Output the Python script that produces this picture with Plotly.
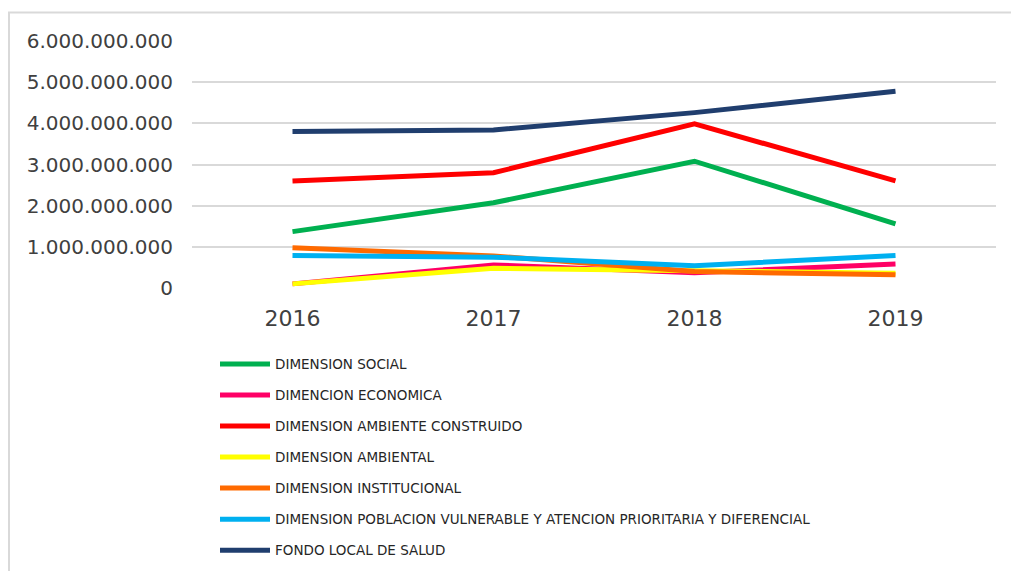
import plotly.graph_objects as go

# Budget execution by dimension, 2016-2019
years = ["2016", "2017", "2018", "2019"]

dimension_social = [1.37e9, 2.07e9, 3.08e9, 1.56e9]
dimencion_economica = [0.10e9, 0.56e9, 0.37e9, 0.58e9]
dimension_ambiente_construido = [2.60e9, 2.80e9, 3.99e9, 2.60e9]
dimension_ambiental = [0.10e9, 0.48e9, 0.42e9, 0.36e9]
dimension_institucional = [0.98e9, 0.78e9, 0.40e9, 0.32e9]
dimension_poblacion_vulnerable = [0.79e9, 0.75e9, 0.54e9, 0.79e9]
fondo_local_salud = [3.80e9, 3.84e9, 4.26e9, 4.78e9]

series_names = [
    "DIMENSION SOCIAL",
    "DIMENCION ECONOMICA",
    "DIMENSION AMBIENTE CONSTRUIDO",
    "DIMENSION AMBIENTAL",
    "DIMENSION INSTITUCIONAL",
    "DIMENSION POBLACION VULNERABLE Y ATENCION PRIORITARIA Y DIFERENCIAL",
    "FONDO LOCAL DE SALUD",
]
series_values = [
    dimension_social,
    dimencion_economica,
    dimension_ambiente_construido,
    dimension_ambiental,
    dimension_institucional,
    dimension_poblacion_vulnerable,
    fondo_local_salud,
]
series_colors = ["#00B050", "#FF0066", "#FF0000", "#FFFF00", "#FF6A00", "#00B0F0", "#203E6E"]

y_ticks = [0, 1e9, 2e9, 3e9, 4e9, 5e9, 6e9]
y_tick_labels = ["0", "1.000.000.000", "2.000.000.000", "3.000.000.000",
                 "4.000.000.000", "5.000.000.000", "6.000.000.000"]

W, H = 1011, 571

fig = go.Figure()
for i, (name, vals, color) in enumerate(zip(series_names, series_values, series_colors)):
    fig.add_trace(go.Scatter(
        x=years, y=vals, name=name, mode="lines",
        line=dict(color=color, width=5),
        legendgroup=f"g{i}",
    ))

# chart frame (only top and left edges fall inside the canvas)
fig.add_shape(type="rect", xref="paper", yref="paper",
              x0=(9 - 192) / 804, x1=1.2,
              y0=-3.0, y1=1 + (41 - 12.5) / 246.5,
              line=dict(color="#D9D9D9", width=2), layer="below")

fig.update_layout(
    width=W, height=H,
    margin=dict(l=192, r=15, t=41, b=283, pad=0, autoexpand=False),
    paper_bgcolor="white", plot_bgcolor="white",
    font=dict(family="DejaVu Sans", color="#404040"),
    showlegend=True,
    legend=dict(
        x=(215 - 192) / 804, xanchor="left",
        y=1 - (348 - 41) / 246.5, yanchor="top",
        font=dict(size=13.5, color="#262626"),
        tracegroupgap=10.5,
        itemwidth=50,
        bgcolor="rgba(0,0,0,0)",
    ),
    xaxis=dict(
        type="category", range=[-0.5, 3.5],
        showgrid=False, showline=False, zeroline=False,
        ticks="", tickfont=dict(size=22, color="#404040"),
        ticklabelstandoff=15,
    ),
    yaxis=dict(
        range=[0, 6e9], tickvals=y_ticks, ticktext=y_tick_labels,
        showgrid=True, gridcolor="#D9D9D9", gridwidth=2,
        zeroline=False, showline=False,
        tickfont=dict(size=20, color="#404040"),
        ticklabelstandoff=18,
    ),
)

fig.write_html("out.html")
